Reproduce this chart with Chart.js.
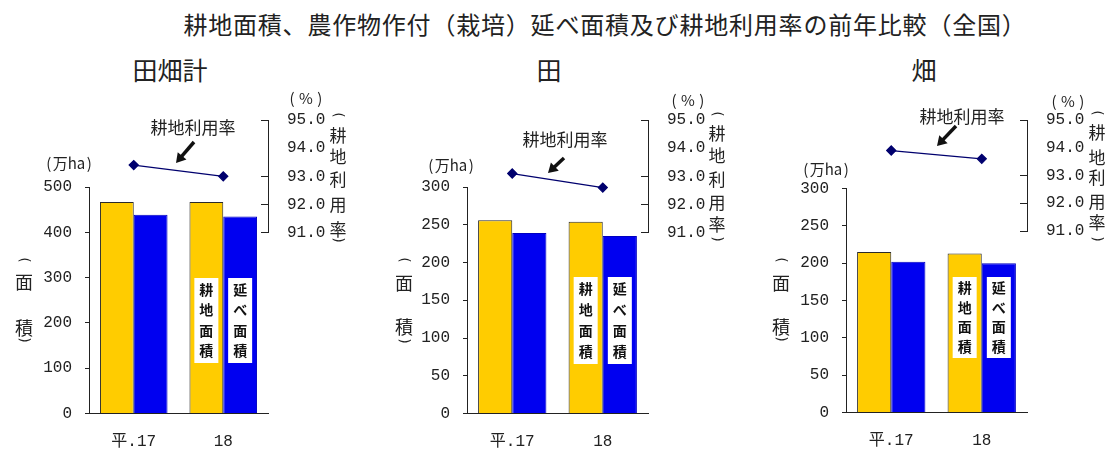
<!DOCTYPE html>
<html lang="ja">
<head>
<meta charset="utf-8">
<script src="https://cdn.jsdelivr.net/npm/chart.js@4.4.1/dist/chart.umd.min.js"></script>
<style>
  html, body { margin: 0; padding: 0; background: #fff; }
  #wrap { position: relative; width: 1114px; height: 453px; overflow: hidden;
          font-family: "Noto Sans CJK JP", sans-serif; color: #222; }
  .txt { position: absolute; white-space: nowrap; line-height: 1; }
  #title { left: 605px; top: 12px; font-size: 24px; transform: translateX(-50%); letter-spacing: 0.8px; }
  .ptitle { top: 57px; font-size: 25px; transform: translateX(-50%); }
  canvas { position: absolute; top: 0; }
</style>
</head>
<body>
<div id="wrap">
  <div class="txt" id="title">耕地面積、農作物作付（栽培）延べ面積及び耕地利用率の前年比較（全国）</div>
</div>
<script>
// Categories and series
const categories = ['平.17', '18'];
const seriesNames = ['耕地面積', '延べ面積', '耕地利用率'];

// 田畑計 (万ha, %)
const totalArea = [467, 467];
const totalPlanted = [439, 435];
const totalRate = [93.4, 93.0];

// 田
const paddyArea = [256, 254];
const paddyPlanted = [239, 235];
const paddyRate = [93.1, 92.6];

// 畑
const uplandArea = [215, 213];
const uplandPlanted = [202, 200];
const uplandRate = [93.9, 93.6];

// Axis ranges
const areaMax = [500, 300, 300];
const areaStep = [100, 50, 50];
const rateMin = 91, rateMax = 95, rateStep = 1;
const unmarkedRateTick = 94;

const panelTitles = ['田畑計', '田', '畑'];
const panelTitleX = [170, 549, 924];

// Layout of each panel canvas (pixels)
const panels = [
  { area: totalArea, planted: totalPlanted, rate: totalRate,
    left: 0, width: 370, axisL: 89, axisR: 268, areaTop: 187, rateBottom: 232.7, bottom: 413.5,
    unit: [69, 163], pct: [306, 98],
    rateCol: 338, rateYs: [115, 136, 157, 180, 205, 230, 240],
    areaCol: 24, areaYs: [260, 282, 328, 340],
    note: [193, 128], arrow: [194, 142, 176, 163], box: [278, 363] },
  { area: paddyArea, planted: paddyPlanted, rate: paddyRate,
    left: 370, width: 370, axisL: 97, axisR: 278, areaTop: 187, rateBottom: 232.7, bottom: 413.5,
    unit: [81, 165], pct: [318, 100],
    rateCol: 347, rateYs: [114, 134, 156, 180, 203, 225, 239],
    areaCol: 34, areaYs: [260, 283, 327, 341],
    note: [195, 140], arrow: [194, 158, 178, 173], box: [277, 364] },
  { area: uplandArea, planted: uplandPlanted, rate: uplandRate,
    left: 740, width: 374, axisL: 106, axisR: 287, areaTop: 188.5, rateBottom: 231, bottom: 412.5,
    unit: [86, 169], pct: [328, 101],
    rateCol: 357, rateYs: [113, 133, 158, 178, 202, 223, 239],
    areaCol: 41, areaYs: [260, 283, 327, 339],
    note: [222, 117], arrow: [216, 126, 197, 146], box: [277, 358] }
];

const ink = '#222';
const numFont = { family: '"Liberation Mono", "Noto Sans CJK JP", monospace', size: 16 };

const wrap = document.getElementById('wrap');
panelTitles.forEach((t, i) => {
  const d = document.createElement('div');
  d.className = 'txt ptitle';
  d.style.left = panelTitleX[i] + 'px';
  d.textContent = t;
  wrap.appendChild(d);
});

// Stacked vertical title; brackets are turned a quarter turn
function drawColumn(ctx, chars, x, ys, font) {
  chars.forEach((c, k) => {
    if (c === '(' || c === ')') {
      ctx.save();
      ctx.font = '14px "DejaVu Sans"';
      ctx.translate(x, ys[k]);
      ctx.rotate(Math.PI / 2);
      ctx.fillText(c, 0, 0);
      ctx.restore();
    } else {
      ctx.font = font;
      ctx.fillText(c, x, ys[k]);
    }
  });
}

// Text with its brackets pushed outward
function drawBracketed(ctx, inner, cx, cy, gap) {
  const w = ctx.measureText(inner).width;
  ctx.fillText(inner, cx, cy);
  ctx.fillText('(', cx - w / 2 - gap, cy);
  ctx.fillText(')', cx + w / 2 + gap, cy);
}

function drawArrow(ctx, x1, y1, x2, y2) {
  const ang = Math.atan2(y2 - y1, x2 - x1);
  const head = 11;
  const bx = x2 - Math.cos(ang) * head * 0.7, by = y2 - Math.sin(ang) * head * 0.7;
  ctx.beginPath();
  ctx.moveTo(x1, y1); ctx.lineTo(bx, by);
  ctx.lineWidth = 3.5; ctx.strokeStyle = '#111'; ctx.stroke();
  ctx.beginPath();
  ctx.moveTo(x2, y2);
  ctx.lineTo(x2 - head * Math.cos(ang - 0.55), y2 - head * Math.sin(ang - 0.55));
  ctx.lineTo(x2 - head * Math.cos(ang + 0.55), y2 - head * Math.sin(ang + 0.55));
  ctx.closePath(); ctx.fillStyle = '#111'; ctx.fill();
}

panels.forEach((p, i) => {
  const canvas = document.createElement('canvas');
  canvas.width = p.width; canvas.height = 453;
  canvas.style.left = p.left + 'px';
  canvas.style.width = p.width + 'px'; canvas.style.height = '453px';
  wrap.appendChild(canvas);

  // Scale ranges that do not fill the whole plot height
  const splitScales = {
    id: 'splitScales',
    afterLayout(chart) {
      const y = chart.scales.y, r = chart.scales.rate;
      y.top = p.areaTop; y.height = y.bottom - y.top; y.configure();
      r.bottom = p.rateBottom; r.height = r.bottom - r.top; r.configure();
    }
  };

  const decorate = {
    id: 'decorate',
    afterDraw(chart) {
      const ctx = chart.ctx;
      ctx.save();
      ctx.fillStyle = ink; ctx.textAlign = 'center'; ctx.textBaseline = 'middle';
      ctx.font = '15px "Noto Sans CJK JP"';
      drawBracketed(ctx, '万ha', p.unit[0], p.unit[1], 4);
      drawBracketed(ctx, '%', p.pct[0], p.pct[1], 7);
      drawColumn(ctx, ['(', '耕', '地', '利', '用', '率', ')'], p.rateCol, p.rateYs, '17px "Noto Sans CJK JP"');
      drawColumn(ctx, ['(', '面', '積', ')'], p.areaCol, p.areaYs, '18px "Noto Sans CJK JP"');
      ctx.font = '17px "Noto Sans CJK JP"';
      ctx.fillText(seriesNames[2], p.note[0], p.note[1]);
      drawArrow(ctx, p.arrow[0], p.arrow[1], p.arrow[2], p.arrow[3]);

      // name boxes on the latest year's bars
      [1, 2].forEach(ds => {
        const bar = chart.getDatasetMeta(ds).data[1];
        const bx = bar.x - 12, top = p.box[0], h = p.box[1] - p.box[0];
        ctx.fillStyle = '#fff';
        ctx.fillRect(bx, top, 24, h);
        ctx.fillStyle = '#111';
        ctx.font = 'bold 14px "Noto Sans CJK JP"';
        const chars = Array.from(seriesNames[ds - 1]);
        const step = h / 4.15;
        chars.forEach((c, k) => ctx.fillText(c, bar.x, top + step * (k + 0.55)));
      });
      ctx.restore();
    }
  };

  new Chart(canvas, {
    type: 'bar',
    data: {
      labels: categories,
      datasets: [
        { type: 'line', label: seriesNames[2], data: p.rate, yAxisID: 'rate', order: 0,
          borderColor: '#00006e', borderWidth: 1.3, pointStyle: 'rectRot', pointRadius: 4.5,
          pointBackgroundColor: '#00006e', pointBorderColor: '#00006e' },
        { label: seriesNames[0], data: p.area, yAxisID: 'y', order: 1,
          backgroundColor: '#FFCC00', borderColor: '#2a2a2a', borderWidth: 1 },
        { label: seriesNames[1], data: p.planted, yAxisID: 'y', order: 1,
          backgroundColor: '#0000F0', borderColor: '#0000C0', borderWidth: 1 }
      ]
    },
    options: {
      responsive: false, animation: false, devicePixelRatio: 1,
      layout: { padding: { top: 120, left: 0, right: 0, bottom: 0 } },
      plugins: { legend: { display: false }, tooltip: { enabled: false }, title: { display: false } },
      datasets: { bar: { categoryPercentage: 0.755, barPercentage: 1 } },
      scales: {
        x: {
          grid: { display: false, drawTicks: false },
          border: { display: true, color: ink, width: 1 },
          ticks: { color: ink, font: numFont, padding: 19 },
          afterFit: s => { s.height = 453 - p.bottom; }
        },
        y: {
          position: 'left', min: 0, max: areaMax[i],
          ticks: { stepSize: areaStep[i], color: ink, font: numFont, padding: 13 },
          grid: { drawOnChartArea: false, drawTicks: true, tickLength: 4, color: ink },
          border: { color: ink, width: 1 },
          afterFit: s => { s.width = p.axisL; }
        },
        rate: {
          position: 'right', min: rateMin, max: rateMax,
          ticks: { stepSize: rateStep, color: ink, font: numFont, padding: 26,
                   callback: v => Number(v).toFixed(1) },
          grid: { drawOnChartArea: false, drawTicks: true, tickLength: -7, color: ink,
                  tickColor: c => (c.tick && c.tick.value === unmarkedRateTick) ? 'rgba(0,0,0,0)' : ink },
          border: { color: ink, width: 1 },
          afterFit: s => { s.width = p.width - p.axisR; }
        }
      }
    },
    plugins: [splitScales, decorate]
  });
});
</script>
</body>
</html>
